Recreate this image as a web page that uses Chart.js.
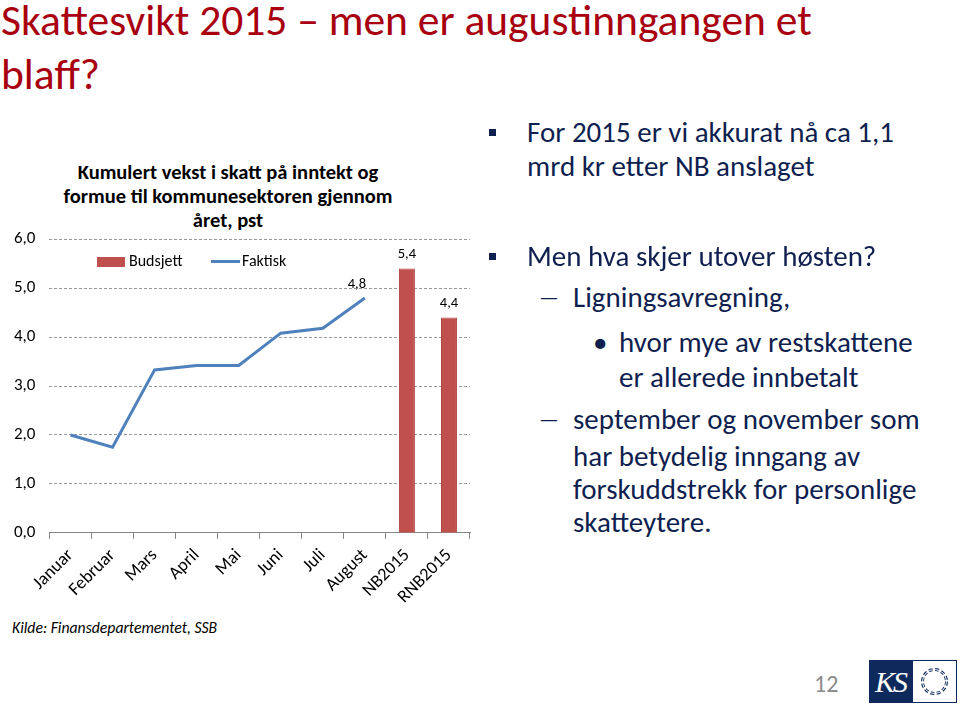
<!DOCTYPE html>
<html>
<head>
<meta charset="utf-8">
<script src="https://cdn.jsdelivr.net/npm/chart.js@4"></script>
<style>
  body { margin: 0; width: 960px; height: 709px; background: #fff; position: relative; overflow: hidden; font-family: Carlito, Calibri, Lato, sans-serif; }
  .abs { position: absolute; white-space: nowrap; }
  #title { left: 1px; top: -6px; font-size: 43.5px; color: #a8000f; line-height: 54px; }
  #ctitle { left: 40px; top: 160px; width: 376px; text-align: center; font-weight: bold; font-size: 20.5px; line-height: 24px; color: #000; }
  #wrap { left: 0; top: 215px; width: 480px; height: 399px; }
  .leg { font-size: 16px; color: #000; }
  .txt { color: #0f1f4f; font-size: 29px; }
  .dash { color: #0f1f4f; font-size: 22px; }
  .sq { position: absolute; width: 7px; height: 7px; background: #0f1f4f; }
  #src { left: 12px; top: 618px; font-size: 15.7px; font-style: italic; }
  #page { left: 814px; top: 669px; font-size: 24px; color: #8c8c8c; }
</style>
</head>
<body>
<div id="title" class="abs">Skattesvikt 2015 – men er augustinngangen et<br>blaff?</div>
<div id="ctitle" class="abs">Kumulert vekst i skatt på inntekt og<br>formue til kommunesektoren gjennom<br>året, pst</div>

<div id="wrap" class="abs"><canvas id="chart"></canvas></div>

<div class="abs" style="left:97px;top:257px;width:28px;height:10px;background:#c0504d"></div>
<div class="abs leg" style="left:129px;top:251px">Budsjett</div>
<div class="abs" style="left:211px;top:260px;width:29px;height:3px;background:#4f81bd"></div>
<div class="abs leg" style="left:242px;top:251px">Faktisk</div>

<div class="sq" style="left:489px;top:129px"></div>
<div class="abs txt" style="left:527px;top:114px">For 2015 er vi akkurat nå ca 1,1</div>
<div class="abs txt" style="left:527px;top:148px">mrd kr etter NB anslaget</div>
<div class="sq" style="left:489px;top:253px"></div>
<div class="abs txt" style="left:527px;top:238px">Men hva skjer utover høsten?</div>
<div class="abs dash" style="left:539px;top:284px">—</div>
<div class="abs txt" style="left:573px;top:279px">Ligningsavregning,</div>
<div class="abs txt" style="left:593px;top:324px">•</div>
<div class="abs txt" style="left:619px;top:324px">hvor mye av restskattene</div>
<div class="abs txt" style="left:619px;top:359px">er allerede innbetalt</div>
<div class="abs dash" style="left:539px;top:406px">—</div>
<div class="abs txt" style="left:573px;top:401px">september og november som</div>
<div class="abs txt" style="left:573px;top:438px">har betydelig inngang av</div>
<div class="abs txt" style="left:573px;top:471px">forskuddstrekk for personlige</div>
<div class="abs txt" style="left:573px;top:504px">skatteytere.</div>

<div id="src" class="abs">Kilde: Finansdepartementet, SSB</div>
<div id="page" class="abs">12</div>
<div class="abs" style="left:869px;top:660px;width:43px;height:43px;background:#0e2a5c;color:#fff;font-family:'Liberation Serif',serif;font-style:italic;font-size:30px;line-height:43px;text-align:center;letter-spacing:-2px">KS</div>
<div class="abs" style="left:912px;top:660px;width:43px;height:41px;border:1px solid #0e2a5c;background:#fff">
  <svg width="43" height="41" viewBox="0 0 43 41"><circle cx="21.5" cy="20.5" r="12" fill="none" stroke="#0e2a5c" stroke-width="3" stroke-dasharray="4 2.3"/><circle cx="21.5" cy="20.5" r="12" fill="none" stroke="#fff" stroke-width="1"/></svg>
</div>

<script>
const categories = ['Januar', 'Februar', 'Mars', 'April', 'Mai', 'Juni', 'Juli', 'August', 'NB2015', 'RNB2015']
const faktisk = [2.0, 1.75, 3.33, 3.42, 3.42, 4.08, 4.18, 4.8, null, null]
const budsjett = [null, null, null, null, null, null, null, null, 5.4, 4.4]
const yTicks = [0, 1, 2, 3, 4, 5, 6]

const FONT = 'Carlito, Calibri, Lato, sans-serif'
const fmt = v => v.toFixed(1).replace('.', ',')

// value labels over the August point and the two bars
const valueLabels = {
  id: 'valueLabels',
  afterDatasetsDraw(chart) {
    const ctx = chart.ctx
    ctx.save()
    ctx.font = '14.5px ' + FONT
    ctx.fillStyle = '#000'
    ctx.textAlign = 'center'
    ctx.textBaseline = 'bottom'
    const line = chart.getDatasetMeta(1)
    const last = faktisk.findLastIndex(v => v !== null)
    const p = line.data[last]
    ctx.fillText(fmt(faktisk[last]), p.x - 8, p.y - 6)
    chart.getDatasetMeta(0).data.forEach((b, i) => {
      if (budsjett[i] === null) return
      ctx.fillText(fmt(budsjett[i]), b.x, b.y - 7)
    })
    ctx.restore()
  }
}

new Chart(document.getElementById('chart'), {
  data: {
    labels: categories,
    datasets: [
      { type: 'bar', label: 'Budsjett', data: budsjett, backgroundColor: '#c0504d', borderColor: '#b04440', borderWidth: 1,
        categoryPercentage: 1, barPercentage: 0.38, order: 2 },
      { type: 'line', label: 'Faktisk', data: faktisk, borderColor: '#4f81bd', borderWidth: 3, pointRadius: 0,
        tension: 0, spanGaps: false, order: 1 }
    ]
  },
  options: {
    responsive: true, maintainAspectRatio: false, animation: false,
    layout: { padding: { left: 0, right: 10, top: 4, bottom: 0 } },
    plugins: { legend: { display: false }, title: { display: false }, tooltip: { enabled: false } },
    scales: {
      x: {
        offset: true,
        grid: { drawOnChartArea: false, drawTicks: true, tickLength: 6, offset: true, color: '#868686' },
        border: { color: '#868686' },
        ticks: { color: '#000', font: { size: 18, family: FONT }, minRotation: 45, maxRotation: 45, autoSkip: false, padding: 6 }
      },
      y: {
        min: 0, max: 6,
        afterBuildTicks: s => { s.ticks = yTicks.map(v => ({ value: v })) },
        grid: { color: '#9a9a9a', drawTicks: false, lineWidth: c => c.tick.value === 0 ? 0 : 1 },
        border: { display: false, dash: [3, 2] },
        ticks: { color: '#000', font: { size: 17, family: FONT }, padding: 14, callback: v => fmt(v) }
      }
    }
  },
  plugins: [valueLabels]
})
</script>
</body>
</html>
